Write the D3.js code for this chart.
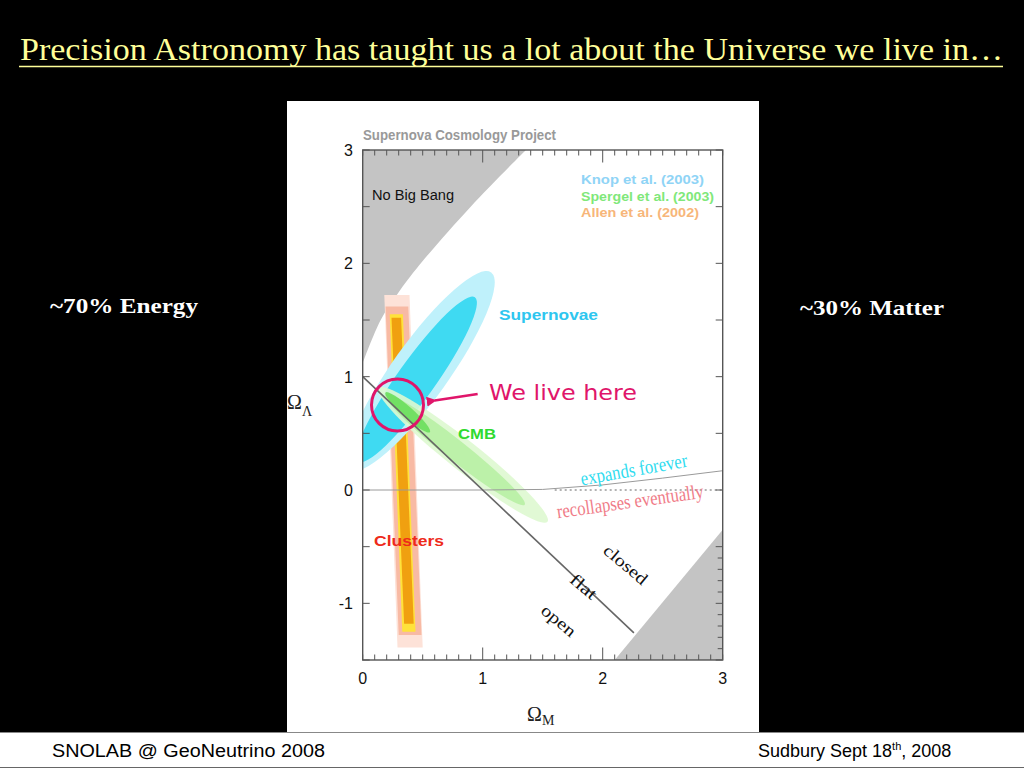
<!DOCTYPE html>
<html>
<head>
<meta charset="utf-8">
<script src="https://cdn.jsdelivr.net/npm/d3@7"></script>
<style>
  html, body { margin: 0; padding: 0; background: #000; }
  svg { display: block; }
</style>
</head>
<body>
<svg id="chart" width="1024" height="768"></svg>
<script>
// ---------------- DATA ----------------
const xDomain = [0, 3];
const yDomain = [-1.5, 3];
const xMajorTicks = [0, 1, 2, 3];
const yMajorTicks = [-1, 0, 1, 2, 3];
const xMinorTicks = d3.range(0, 31).map(d => d / 10);
const yHalfTicks = [-1.5, -1, -0.5, 0, 0.5, 1, 1.5, 2, 2.5, 3];
const yRightMinorTicks = [-1.4, -1.3, -1.2, -1.1, -0.9, -0.8, -0.7, -0.6];

// "No Big Bang" region boundary (Ω_M, Ω_Λ)
const noBigBangEdge = [[0, 1.12], [0.15, 1.5], [0.31, 1.76], [0.5, 2.02], [0.9, 2.5], [1.36, 3.0]];
// bottom-right excluded region
const lowerRegion = [[2.1, -1.5], [3, -0.35], [3, -1.5]];
// flat universe line
const flatLine = [[0, 1], [2.26, -1.26]];
// expands forever / recollapses boundary
const expandLine = [[0, 0], [1, 0], [1.5, 0.005], [2, 0.045], [2.5, 0.105], [3, 0.17]];
const dottedZero = [[1.6, 0], [3, 0]];

// Supernova contours: major-axis tips and half width (Ω_M units)
const supernovaContours = [
  { tipA: [1.07, 1.92], tipB: [-0.105, 0.18], half: 0.235, level: "outer" },
  { tipA: [0.935, 1.70], tipB: [-0.04, 0.25], half: 0.158, level: "inner" }
];
// CMB contours
const cmbContours = [
  { tipA: [0.13, 0.90], tipB: [1.54, -0.28], half: 0.125, level: "outer" },
  { tipA: [0.19, 0.84], tipB: [1.35, -0.13], half: 0.085, level: "mid" },
  { tipA: [0.19, 0.86], tipB: [0.56, 0.51], half: 0.045, level: "inner" }
];
// Cluster bands: top y, bottom y, x-range at top, x-range at bottom
const clusterBands = [
  { top: 1.72, bottom: -1.39, topX: [0.18, 0.39], botX: [0.29, 0.50], level: "outer" },
  { top: 1.62, bottom: -1.28, topX: [0.19, 0.38], botX: [0.30, 0.49], level: "mid" },
  { top: 1.55, bottom: -1.25, topX: [0.225, 0.335], botX: [0.33, 0.44], level: "yellow" },
  { top: 1.52, bottom: -1.18, topX: [0.24, 0.32], botX: [0.345, 0.425], level: "core" }
];

const legendLabels = ["Knop et al. (2003)", "Spergel et al.  (2003)", "Allen et al.  (2002)"];

// ---------------- STYLE ----------------
const svg = d3.select("#chart");
const W = 1024, H = 768;
const plot = { left: 362.7, right: 722.7, top: 150, bottom: 660 };
const x = d3.scaleLinear().domain(xDomain).range([plot.left, plot.right]);
const y = d3.scaleLinear().domain(yDomain).range([plot.bottom, plot.top]);

const colors = {
  snOuter: "#bff1fb", snInner: "#3fdaf2",
  cmbOuter: "#def8d0", cmbMid: "#b8efa4", cmbInner: "#6ade5c",
  clOuter: "#fde2d8", clMid: "#f8baa4", clYellow: "#ffe23a", clCore: "#f0a010",
  gray: "#c4c4c4", magenta: "#e0156a"
};
const levelColor = {
  sn: { outer: colors.snOuter, inner: colors.snInner },
  cmb: { outer: colors.cmbOuter, mid: colors.cmbMid, inner: colors.cmbInner },
  cl: { outer: colors.clOuter, mid: colors.clMid, yellow: colors.clYellow, core: colors.clCore }
};

// background
svg.append("rect").attr("width", W).attr("height", H).attr("fill", "#000");

// Title
svg.append("text").attr("x", 20).attr("y", 60)
  .attr("font-family", "Liberation Serif, Times New Roman, serif")
  .attr("font-size", 32).attr("fill", "#ffff99")
  .attr("textLength", 983).attr("lengthAdjust", "spacingAndGlyphs")
  .text("Precision Astronomy has taught us a lot about the Universe we live in…");
svg.append("line").attr("x1", 19).attr("x2", 1003).attr("y1", 66.5).attr("y2", 66.5)
  .attr("stroke", "#ffff99").attr("stroke-width", 1.5);

// side labels
svg.append("text").attr("x", 50).attr("y", 313)
  .attr("font-family", "Liberation Serif, Times New Roman, serif").attr("font-weight", "bold")
  .attr("font-size", 22).attr("fill", "#fff")
  .attr("textLength", 148).attr("lengthAdjust", "spacingAndGlyphs").text("~70% Energy");
svg.append("text").attr("x", 800).attr("y", 315)
  .attr("font-family", "Liberation Serif, Times New Roman, serif").attr("font-weight", "bold")
  .attr("font-size", 22).attr("fill", "#fff")
  .attr("textLength", 144).attr("lengthAdjust", "spacingAndGlyphs").text("~30% Matter");

// white panel
svg.append("rect").attr("x", 287).attr("y", 101).attr("width", 472).attr("height", 631).attr("fill", "#fff");

// footer
svg.append("rect").attr("x", 0).attr("y", 732).attr("width", W).attr("height", 36).attr("fill", "#fff");
svg.append("line").attr("x1", 0).attr("x2", W).attr("y1", 732.5).attr("y2", 732.5).attr("stroke", "#888").attr("stroke-width", 1.2);
svg.append("line").attr("x1", 0).attr("x2", W).attr("y1", 767.5).attr("y2", 767.5).attr("stroke", "#666").attr("stroke-width", 1);
svg.append("text").attr("x", 52).attr("y", 757)
  .attr("font-family", "Liberation Sans, Arial, sans-serif").attr("font-size", 18).attr("fill", "#000")
  .attr("textLength", 273).attr("lengthAdjust", "spacingAndGlyphs")
  .text("SNOLAB @ GeoNeutrino 2008");
const foot = svg.append("text").attr("x", 758).attr("y", 757)
  .attr("font-family", "Liberation Sans, Arial, sans-serif").attr("font-size", 18).attr("fill", "#000");
foot.append("tspan").text("Sudbury Sept 18");
foot.append("tspan").attr("font-size", 11).attr("dy", -7).text("th");
foot.append("tspan").attr("dy", 7).text(", 2008");

// plot clip
svg.append("clipPath").attr("id", "plotclip").append("rect")
  .attr("x", plot.left).attr("y", plot.top)
  .attr("width", plot.right - plot.left).attr("height", plot.bottom - plot.top);
const g = svg.append("g").attr("clip-path", "url(#plotclip)");

const line = d3.line().x(d => x(d[0])).y(d => y(d[1]));
const curve = d3.line().x(d => x(d[0])).y(d => y(d[1])).curve(d3.curveCatmullRom);

// gray regions
g.append("path")
  .attr("d", curve(noBigBangEdge) + `L${x(0)},${y(3)}Z`)
  .attr("fill", colors.gray);
g.append("path").attr("d", line(lowerRegion) + "Z").attr("fill", colors.gray);

// ellipse helper
function drawEllipse(sel, c, fill, opacity) {
  const ax = x(c.tipA[0]), ay = y(c.tipA[1]);
  const bx = x(c.tipB[0]), by = y(c.tipB[1]);
  const cx = (ax + bx) / 2, cy = (ay + by) / 2;
  const rx = Math.hypot(ax - bx, ay - by) / 2;
  const ry = x(c.half) - x(0);
  const ang = Math.atan2(ay - by, ax - bx) * 180 / Math.PI;
  sel.append("ellipse")
    .attr("cx", 0).attr("cy", 0).attr("rx", rx).attr("ry", ry)
    .attr("transform", `translate(${cx},${cy}) rotate(${ang})`)
    .attr("fill", fill).attr("opacity", opacity);
}

// clusters
clusterBands.forEach(b => {
  const pts = [[b.topX[0], b.top], [b.topX[1], b.top], [b.botX[1], b.bottom], [b.botX[0], b.bottom]];
  g.append("path").attr("d", line(pts) + "Z").attr("fill", levelColor.cl[b.level]);
});

// supernovae
supernovaContours.forEach(c => drawEllipse(g, c, levelColor.sn[c.level], 1));

// CMB
cmbContours.forEach(c => drawEllipse(g, c, levelColor.cmb[c.level], 0.9));

// expand / recollapse lines
g.append("path").attr("d", line(expandLine)).attr("fill", "none").attr("stroke", "#9a9a9a").attr("stroke-width", 1);
g.append("path").attr("d", line(dottedZero)).attr("fill", "none").attr("stroke", "#666")
  .attr("stroke-width", 1).attr("stroke-dasharray", "2,3");

// flat line
g.append("path").attr("d", line(flatLine)).attr("fill", "none").attr("stroke", "#666").attr("stroke-width", 1.6);

// frame
svg.append("rect").attr("x", plot.left).attr("y", plot.top)
  .attr("width", plot.right - plot.left).attr("height", plot.bottom - plot.top)
  .attr("fill", "none").attr("stroke", "#555").attr("stroke-width", 1.4);

// ticks
const tickG = svg.append("g").attr("stroke", "#555").attr("stroke-width", 1);
xMinorTicks.forEach(v => {
  const major = Math.abs(v - Math.round(v)) < 1e-9 && v > 0 && v < 3;
  const len = major ? 12.5 : 5.5;
  tickG.append("line").attr("x1", x(v)).attr("x2", x(v)).attr("y1", plot.bottom).attr("y2", plot.bottom - len);
  tickG.append("line").attr("x1", x(v)).attr("x2", x(v)).attr("y1", plot.top).attr("y2", plot.top + len);
});
yHalfTicks.forEach(v => {
  tickG.append("line").attr("x1", plot.left).attr("x2", plot.left + 7).attr("y1", y(v)).attr("y2", y(v));
  tickG.append("line").attr("x1", plot.right).attr("x2", plot.right - 7).attr("y1", y(v)).attr("y2", y(v));
});
yRightMinorTicks.forEach(v => {
  tickG.append("line").attr("x1", plot.right).attr("x2", plot.right - 5).attr("y1", y(v)).attr("y2", y(v));
});

// tick labels
const sans = "Liberation Sans, Arial, Helvetica, sans-serif";
xMajorTicks.forEach(v => {
  svg.append("text").attr("x", x(v)).attr("y", 684).attr("text-anchor", "middle")
    .attr("font-family", sans).attr("font-size", 16).attr("fill", "#111").text(v);
});
yMajorTicks.forEach(v => {
  svg.append("text").attr("x", 353).attr("y", y(v) + 6).attr("text-anchor", "end")
    .attr("font-family", sans).attr("font-size", 16).attr("fill", "#111").text(v);
});

// axis titles
const serif = "Liberation Serif, Times New Roman, serif";
const xt = svg.append("text").attr("x", 527).attr("y", 721).attr("font-family", serif).attr("font-size", 20).attr("fill", "#222");
xt.append("tspan").text("Ω");
xt.append("tspan").attr("font-size", 14).attr("dy", 4).text("M");
const yt = svg.append("text").attr("x", 287).attr("y", 409).attr("font-family", serif).attr("font-size", 20).attr("fill", "#222");
yt.append("tspan").text("Ω");
yt.append("tspan").attr("font-size", 14).attr("dy", 7).text("Λ");

// header text
svg.append("text").attr("x", 363).attr("y", 140)
  .attr("font-family", sans).attr("font-weight", "bold").attr("font-size", 14).attr("fill", "#999")
  .attr("textLength", 193).attr("lengthAdjust", "spacingAndGlyphs")
  .text("Supernova Cosmology Project");

// in-plot labels
svg.append("text").attr("x", 372).attr("y", 200).attr("font-family", sans).attr("font-size", 15.5)
  .attr("fill", "#111").attr("textLength", 82).attr("lengthAdjust", "spacingAndGlyphs").text("No Big Bang");

const legendColors = ["#8fd4f6", "#7fe87a", "#f7b67a"];
const legendW = [123, 133, 118];
legendLabels.forEach((t, i) => {
  svg.append("text").attr("x", 581).attr("y", 184 + i * 16.5)
    .attr("font-family", sans).attr("font-weight", "bold").attr("font-size", 12)
    .attr("fill", legendColors[i]).attr("textLength", legendW[i]).attr("lengthAdjust", "spacingAndGlyphs").text(t);
});

svg.append("text").attr("x", 499).attr("y", 320).attr("font-family", sans).attr("font-weight", "bold")
  .attr("font-size", 15).attr("fill", "#2ec6ef").attr("textLength", 99).attr("lengthAdjust", "spacingAndGlyphs").text("Supernovae");
svg.append("text").attr("x", 458).attr("y", 439).attr("font-family", sans).attr("font-weight", "bold")
  .attr("font-size", 15).attr("fill", "#2fda2f").attr("textLength", 38).attr("lengthAdjust", "spacingAndGlyphs").text("CMB");
svg.append("text").attr("x", 374).attr("y", 546).attr("font-family", sans).attr("font-weight", "bold")
  .attr("font-size", 15).attr("fill", "#ee2a1a").attr("textLength", 70).attr("lengthAdjust", "spacingAndGlyphs").text("Clusters");

function rotText(t, cx, cy, ang, size, fill, len) {
  svg.append("text").attr("transform", `translate(${cx},${cy}) rotate(${ang})`)
    .attr("text-anchor", "middle").attr("font-family", serif).attr("font-size", size).attr("fill", fill)
    .attr("textLength", len).attr("lengthAdjust", "spacingAndGlyphs").text(t);
}
rotText("expands forever", 635, 476, -10, 20, "#2fdcef", 108);
rotText("recollapses eventually", 631, 508, -8, 20, "#f07c88", 148);
rotText("closed", 622, 569, 40, 17, "#111", 52);
rotText("flat", 580, 591, 40, 17, "#111", 30);
rotText("open", 555, 625, 40, 17, "#111", 40);

// We live here annotation
const mag = colors.magenta;
svg.append("circle").attr("cx", x(0.29)).attr("cy", y(0.75)).attr("r", 26)
  .attr("fill", "none").attr("stroke", mag).attr("stroke-width", 3);
svg.append("defs").append("marker").attr("id", "ah").attr("viewBox", "0 0 10 10")
  .attr("refX", 2).attr("refY", 5).attr("markerWidth", 4).attr("markerHeight", 4).attr("orient", "auto")
  .append("path").attr("d", "M10,0 L0,5 L10,10 Z").attr("fill", mag);
svg.append("line").attr("x1", x(0.958)).attr("y1", y(0.847)).attr("x2", x(0.60)).attr("y2", y(0.79))
  .attr("stroke", mag).attr("stroke-width", 2.5).attr("marker-end", "url(#ah)");
svg.append("text").attr("x", 489).attr("y", 400)
  .attr("font-family", "Comic Sans MS, DejaVu Sans, sans-serif").attr("font-size", 22).attr("fill", mag)
  .attr("textLength", 148).attr("lengthAdjust", "spacingAndGlyphs").text("We live here");
</script>
</body>
</html>
